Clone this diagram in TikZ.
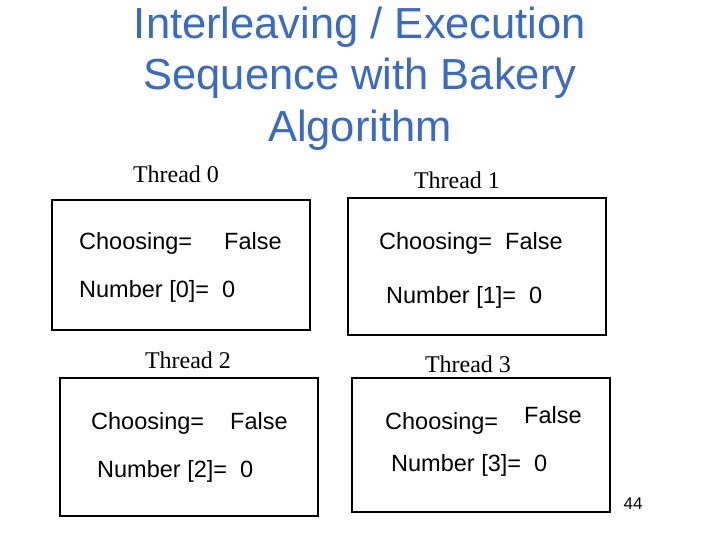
\documentclass[tikz,border=0pt]{standalone}
\usepackage{fontspec}
\setmainfont{Liberation Serif}
\newfontfamily\arialf{Liberation Sans}
\definecolor{titleblue}{HTML}{3A6BC4}
\begin{document}
\begin{tikzpicture}[x=1pt,y=-1pt,
  box/.style={draw,line width=1.5pt},
  lbl/.style={font=\fontsize{23.5}{26}\selectfont\arialf,anchor=base west,inner sep=0pt},
  thr/.style={font=\fontsize{24}{26}\selectfont,anchor=base,inner sep=0pt},
  ttl/.style={font=\fontsize{43.5}{48}\selectfont\arialf,text=titleblue,anchor=base,inner sep=0pt}]
\useasboundingbox (0,0) rectangle (720,540);
\node[ttl] (t1) at (360,39) {Interleaving / Execution};
\node[ttl] (t2) at (360,90) {Sequence with Bakery};
\node[ttl] (t3) at (360,142) {Algorithm};
\draw[box] (52,200) rectangle (310,330);
\draw[box] (348,198) rectangle (606,335);
\draw[box] (60,378) rectangle (318,516);
\draw[box] (352,378) rectangle (610,512);
\node[thr] (h0) at (176,183) {Thread 0};
\node[thr] (h1) at (457,189) {Thread 1};
\node[thr] (h2) at (188,368) {Thread 2};
\node[thr] (h3) at (468,372) {Thread 3};
\node[lbl] (c0) at (79,249) {Choosing=};
\node[lbl] (f0) at (224,249) {False};
\node[lbl] (n0) at (79,297) {Number [0]=\ \ 0};
\node[lbl] (c1) at (379,249) {Choosing=\ \ False};
\node[lbl] (n1) at (386,303) {Number [1]=\ \ 0};
\node[lbl] (c2) at (91,429) {Choosing=};
\node[lbl] (f2) at (230,429) {False};
\node[lbl] (n2) at (97,477) {Number [2]=\ \ 0};
\node[lbl] (c3) at (385,429) {Choosing=};
\node[lbl] (f3) at (524,423) {False};
\node[lbl] (n3) at (391,471) {Number [3]=\ \ 0};
\node[font=\fontsize{17}{19}\selectfont\arialf,anchor=base,inner sep=0pt] (pg) at (633,509) {44};
\end{tikzpicture}
\end{document}
